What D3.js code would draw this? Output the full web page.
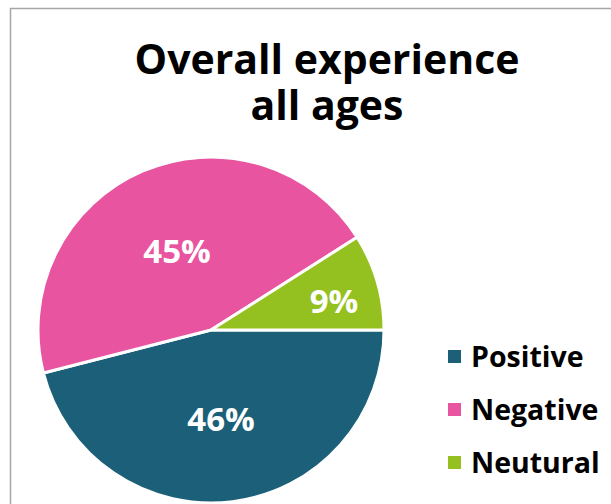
<!DOCTYPE html>
<html>
<head>
<meta charset="utf-8">
<script src="https://cdn.jsdelivr.net/npm/d3@7"></script>
<style>
  html, body { margin: 0; padding: 0; background: #fff; }
  svg { display: block; }
  text { font-family: "Open Sans", Lato, sans-serif; font-weight: bold; }
</style>
</head>
<body>
<svg id="chart" width="611" height="504"></svg>
<script>
const categories = ["Positive", "Negative", "Neutural"];
const values = [46, 45, 9];
const labels = ["46%", "45%", "9%"];
const colors = ["#1b5f78", "#e854a0", "#94c11f"];
const titleLines = ["Overall experience", "all ages"];

const svg = d3.select("#chart");
const W = 611, H = 504;

// border (top and left visible)
svg.append("path")
  .attr("d", `M10.5,${H} L10.5,8.5 L${W},8.5`)
  .attr("fill", "none").attr("stroke", "#a6a6a6").attr("stroke-width", 1.5);

// title (one wrapped text element)
svg.append("text")
  .attr("text-anchor", "middle")
  .attr("font-size", 41)
  .attr("fill", "#000")
  .selectAll("tspan").data(titleLines).join("tspan")
  .attr("x", 327).attr("y", (d, i) => 74 + i * 46)
  .text(d => d);

const cx = 211, cy = 330, r = 173;
const data = categories.map((c, i) => ({ name: c, value: values[i], label: labels[i], color: colors[i] }));

const pie = d3.pie().value(d => d.value).sort(null)
  .startAngle(Math.PI / 2).endAngle(Math.PI / 2 + 2 * Math.PI);
const arcs = pie(data);
const arc = d3.arc().innerRadius(0).outerRadius(r);

const g = svg.append("g").attr("transform", `translate(${cx},${cy})`);
g.selectAll("path").data(arcs).join("path")
  .attr("d", arc)
  .attr("fill", d => d.data.color)
  .attr("stroke", "#fff").attr("stroke-width", 3).attr("stroke-linejoin", "round");

// labels
const labelPos = { "Positive": [10, 101], "Negative": [-34, -67], "Neutural": [123, -17] };
g.selectAll("text.lbl").data(arcs).join("text")
  .attr("class", "lbl")
  .attr("x", d => labelPos[d.data.name][0])
  .attr("y", d => labelPos[d.data.name][1])
  .attr("text-anchor", "middle")
  .attr("font-size", 33)
  .attr("fill", "#fff")
  .text(d => d.data.label);

// legend
const leg = svg.append("g").selectAll("g").data(data).join("g")
  .attr("transform", (d, i) => `translate(448, ${350 + i * 53})`);
leg.append("rect").attr("width", 13).attr("height", 13).attr("fill", d => d.color);
leg.append("text").attr("x", 23).attr("y", 17)
  .attr("font-size", 28.5).attr("fill", "#000").text(d => d.name);
</script>
</body>
</html>
